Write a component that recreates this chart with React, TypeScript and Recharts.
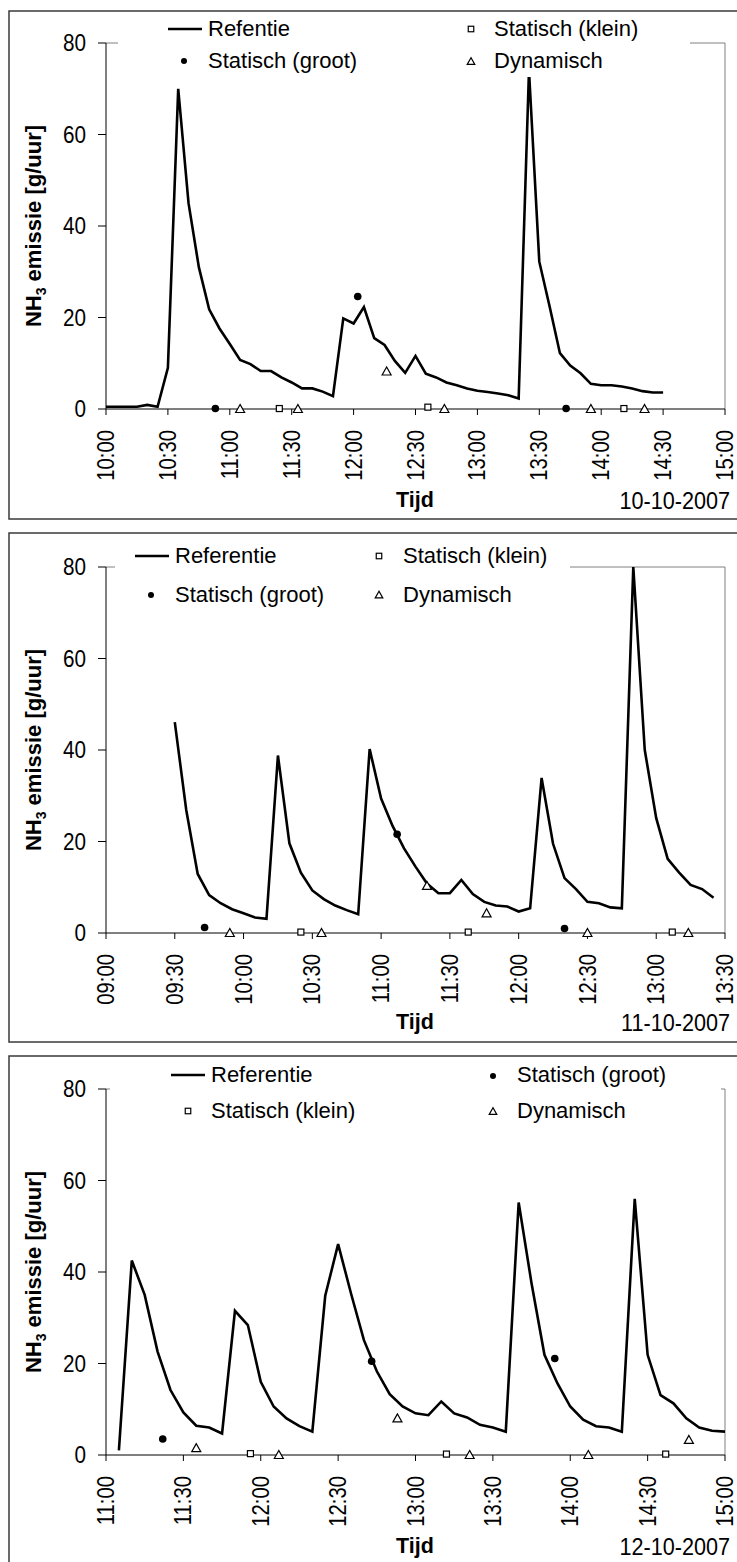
import { ComposedChart, Line, Scatter, XAxis, YAxis, ReferenceLine } from 'recharts'

const FONT = '"Liberation Sans", Arial, sans-serif'

// 10-10-2007
const refTimes1 = ['10:00', '10:05', '10:10', '10:15', '10:20', '10:25', '10:30', '10:35', '10:40', '10:45', '10:50', '10:55', '11:00', '11:05', '11:10', '11:15', '11:20', '11:25', '11:30', '11:35', '11:40', '11:45', '11:50', '11:55', '12:00', '12:05', '12:10', '12:15', '12:20', '12:25', '12:30', '12:35', '12:40', '12:45', '12:50', '12:55', '13:00', '13:05', '13:10', '13:15', '13:20', '13:25', '13:30', '13:35', '13:40', '13:45', '13:50', '13:55', '14:00', '14:05', '14:10', '14:15', '14:20', '14:25', '14:30']
const refValues1 = [0.5, 0.5, 0.5, 0.5, 0.9, 0.5, 9.0, 70.0, 45.0, 31.0, 21.8, 17.6, 14.2, 10.7, 9.8, 8.3, 8.3, 6.9, 5.8, 4.5, 4.5, 3.8, 2.8, 19.8, 18.7, 22.3, 15.5, 14.0, 10.5, 7.9, 11.6, 7.7, 6.9, 5.8, 5.2, 4.5, 4.0, 3.7, 3.4, 3.0, 2.3, 74.0, 32.2, 22.4, 12.2, 9.5, 7.8, 5.5, 5.2, 5.2, 4.9, 4.5, 3.9, 3.6, 3.6]
const grootTimes1 = ['10:53', '12:02', '13:43']
const grootValues1 = [0.1, 24.6, 0.1]
const kleinTimes1 = ['11:24', '12:36', '14:11']
const kleinValues1 = [0.1, 0.4, 0.1]
const dynTimes1 = ['11:05', '11:33', '12:16', '12:44', '13:55', '14:21']
const dynValues1 = [0, 0, 8.2, 0, 0, 0]
const ticks1 = ['10:00', '10:30', '11:00', '11:30', '12:00', '12:30', '13:00', '13:30', '14:00', '14:30', '15:00']

// 11-10-2007
const refTimes2 = ['09:30', '09:35', '09:40', '09:45', '09:50', '09:55', '10:00', '10:05', '10:10', '10:15', '10:20', '10:25', '10:30', '10:35', '10:40', '10:45', '10:50', '10:55', '11:00', '11:05', '11:10', '11:15', '11:20', '11:25', '11:30', '11:35', '11:40', '11:45', '11:50', '11:55', '12:00', '12:05', '12:10', '12:15', '12:20', '12:25', '12:30', '12:35', '12:40', '12:45', '12:50', '12:55', '13:00', '13:05', '13:10', '13:15', '13:20', '13:25']
const refValues2 = [46.1, 26.9, 12.9, 8.3, 6.5, 5.2, 4.3, 3.4, 3.1, 38.8, 19.6, 13.2, 9.3, 7.4, 6.0, 5.0, 4.1, 40.2, 29.4, 23.4, 18.5, 14.5, 10.8, 8.7, 8.7, 11.6, 8.5, 6.8, 6.0, 5.8, 4.7, 5.4, 33.9, 19.5, 12.0, 9.6, 6.8, 6.5, 5.6, 5.4, 80.0, 40.0, 25.1, 16.2, 13.2, 10.5, 9.6, 7.7]
const grootTimes2 = ['09:43', '11:07', '12:20']
const grootValues2 = [1.2, 21.6, 1.0]
const kleinTimes2 = ['10:25', '11:38', '13:07']
const kleinValues2 = [0.2, 0.2, 0.2]
const dynTimes2 = ['09:54', '10:34', '11:20', '11:46', '12:30', '13:14']
const dynValues2 = [0, 0, 10.3, 4.3, 0, 0]
const ticks2 = ['09:00', '09:30', '10:00', '10:30', '11:00', '11:30', '12:00', '12:30', '13:00', '13:30']

// 12-10-2007
const refTimes3 = ['11:05', '11:10', '11:15', '11:20', '11:25', '11:30', '11:35', '11:40', '11:45', '11:50', '11:55', '12:00', '12:05', '12:10', '12:15', '12:20', '12:25', '12:30', '12:35', '12:40', '12:45', '12:50', '12:55', '13:00', '13:05', '13:10', '13:15', '13:20', '13:25', '13:30', '13:35', '13:40', '13:45', '13:50', '13:55', '14:00', '14:05', '14:10', '14:15', '14:20', '14:25', '14:30', '14:35', '14:40', '14:45', '14:50', '14:55', '15:00']
const refValues3 = [1.0, 42.5, 35.0, 22.6, 14.2, 9.3, 6.4, 6.0, 4.7, 31.5, 28.4, 16.0, 10.6, 8.0, 6.3, 5.1, 34.8, 46.1, 35.3, 25.1, 18.3, 13.3, 10.6, 9.1, 8.7, 11.7, 9.1, 8.2, 6.6, 6.0, 5.1, 55.2, 37.5, 21.9, 15.7, 10.6, 7.7, 6.3, 6.0, 5.1, 56.0, 21.9, 13.1, 11.3, 8.0, 6.0, 5.3, 5.1]
const grootTimes3 = ['11:22', '12:43', '13:54']
const grootValues3 = [3.5, 20.5, 21.1]
const kleinTimes3 = ['11:56', '13:12', '14:37']
const kleinValues3 = [0.3, 0.2, 0.2]
const dynTimes3 = ['11:35', '12:07', '12:53', '13:21', '14:07', '14:46']
const dynValues3 = [1.5, 0, 8.0, 0, 0, 3.3]
const ticks3 = ['11:00', '11:30', '12:00', '12:30', '13:00', '13:30', '14:00', '14:30', '15:00']

const yTicks = [0, 20, 40, 60, 80]

const toMin = (s: string) => {
  const [h, m] = s.split(':').map(Number)
  return h * 60 + m
}
const fmt = (t: number) => `${String(Math.floor(t / 60)).padStart(2, '0')}:${String(t % 60).padStart(2, '0')}`
const pts = (times: string[], values: number[]) => times.map((s, i) => ({ t: toMin(s), v: values[i] }))

const Dot = ({ cx, cy, r = 3.8 }: any) => <circle cx={cx} cy={cy} r={r} fill="#000" />
const Square = ({ cx, cy, s = 6 }: any) => (
  <rect x={cx - s / 2} y={cy - s / 2} width={s} height={s} fill="#fff" stroke="#000" strokeWidth={1.2} />
)
const Triangle = ({ cx, cy, s = 4.5 }: any) => (
  <polygon
    points={`${cx},${cy - s} ${cx - s},${cy + s * 0.78} ${cx + s},${cy + s * 0.78}`}
    fill="#fff"
    stroke="#000"
    strokeWidth={1.2}
  />
)

// excel's arial is a bit condensed in the scan, so squeeze the glyphs horizontally
const TimeTick = ({ x, y, payload }: any) => (
  <text
    transform={`translate(${x} ${y}) rotate(-90) scale(0.88 1)`}
    textAnchor="end"
    dy="0.35em"
    fontSize={23}
    fontFamily={FONT}
    fill="#000"
  >
    {fmt(payload.value)}
  </text>
)

const ValueTick = ({ x, y, payload }: any) => (
  <text
    transform={`translate(${x} ${y}) scale(0.9 1)`}
    textAnchor="end"
    dy="0.36em"
    fontSize={23}
    fontFamily={FONT}
    fill="#000"
  >
    {payload.value}
  </text>
)

type PanelProps = {
  top: number
  ticks: string[]
  refData: { t: number; v: number }[]
  groot: { t: number; v: number }[]
  klein: { t: number; v: number }[]
  dyn: { t: number; v: number }[]
}

function Panel({ top, ticks, refData, groot, klein, dyn }: PanelProps) {
  const tickMins = ticks.map(toMin)
  const domain = [tickMins[0], tickMins[tickMins.length - 1]]
  return (
    <div style={{ position: 'absolute', left: 0, top }}>
      <ComposedChart width={737} height={500} margin={{ top: 32, right: 12, bottom: 42, left: 46 }}>
        <XAxis
          type="number"
          dataKey="t"
          domain={domain}
          ticks={tickMins}
          interval={0}
          allowDataOverflow
          height={60}
          tickSize={6}
          tickMargin={15}
          axisLine={{ stroke: '#000', strokeWidth: 1 }}
          tickLine={{ stroke: '#000', strokeWidth: 1 }}
          tick={(p: any) => <TimeTick {...p} />}
        />
        <YAxis
          type="number"
          domain={[0, 80]}
          ticks={yTicks}
          interval={0}
          width={60}
          tickSize={8}
          tickMargin={12}
          axisLine={{ stroke: '#000', strokeWidth: 1 }}
          tickLine={{ stroke: '#000', strokeWidth: 1 }}
          tick={(p: any) => <ValueTick {...p} />}
        />
        <ReferenceLine y={80} stroke="#808080" strokeWidth={1} />
        <ReferenceLine x={domain[1]} stroke="#808080" strokeWidth={1} />
        <Line data={refData} dataKey="v" type="linear" stroke="#000" strokeWidth={2.6} dot={false} isAnimationActive={false} />
        <Scatter data={groot} dataKey="v" shape={(p: any) => <Dot cx={p.cx} cy={p.cy} />} isAnimationActive={false} />
        <Scatter data={klein} dataKey="v" shape={(p: any) => <Square cx={p.cx} cy={p.cy} />} isAnimationActive={false} />
        <Scatter data={dyn} dataKey="v" shape={(p: any) => <Triangle cx={p.cx} cy={p.cy} />} isAnimationActive={false} />
      </ComposedChart>
    </div>
  )
}

type LegendItem = { kind: 'line' | 'dot' | 'square' | 'tri'; label: string; sx: number; sy: number; tx: number; ty: number }

function LegendBox({ box, items }: { box: [number, number, number, number]; items: LegendItem[] }) {
  return (
    <g>
      <rect x={box[0]} y={box[1]} width={box[2]} height={box[3]} fill="#fff" />
      {items.map((it) => (
        <g key={it.label}>
          {it.kind === 'line' && <line x1={it.sx - 17} x2={it.sx + 17} y1={it.sy} y2={it.sy} stroke="#000" strokeWidth={2.6} />}
          {it.kind === 'dot' && <Dot cx={it.sx} cy={it.sy} r={3} />}
          {it.kind === 'square' && <Square cx={it.sx} cy={it.sy} s={5.5} />}
          {it.kind === 'tri' && <Triangle cx={it.sx} cy={it.sy} s={3.8} />}
          <text x={it.tx} y={it.ty} fontSize={22} fontFamily={FONT} fill="#000">
            {it.label}
          </text>
        </g>
      ))}
    </g>
  )
}

function Titles({ plotTop, baseline, date }: { plotTop: number; baseline: number; date: string }) {
  const cy = plotTop + 183
  return (
    <g fontFamily={FONT} fill="#000">
      <text x={33} y={cy} transform={`rotate(-90 33 ${cy})`} textAnchor="middle" dy="0.35em" fontSize={22} fontWeight="bold">
        <tspan>NH</tspan>
        <tspan fontSize={14} dy={5}>3</tspan>
        <tspan dy={-5}> emissie [g/uur]</tspan>
      </text>
      <text x={415} y={baseline} textAnchor="middle" fontSize={21.5} fontWeight="bold">Tijd</text>
      <text transform={`translate(730 ${baseline + 2}) scale(0.94 1)`} textAnchor="end" fontSize={23}>{date}</text>
    </g>
  )
}

export default function App() {
  return (
    <div style={{ position: 'absolute', left: 0, top: 0, width: 737, height: 1562, overflow: 'hidden', background: '#fff' }}>
      <Panel top={11} ticks={ticks1} refData={pts(refTimes1, refValues1)} groot={pts(grootTimes1, grootValues1)} klein={pts(kleinTimes1, kleinValues1)} dyn={pts(dynTimes1, dynValues1)} />
      <Panel top={535} ticks={ticks2} refData={pts(refTimes2, refValues2)} groot={pts(grootTimes2, grootValues2)} klein={pts(kleinTimes2, kleinValues2)} dyn={pts(dynTimes2, dynValues2)} />
      <Panel top={1057} ticks={ticks3} refData={pts(refTimes3, refValues3)} groot={pts(grootTimes3, grootValues3)} klein={pts(kleinTimes3, kleinValues3)} dyn={pts(dynTimes3, dynValues3)} />
      <svg width={737} height={1562} style={{ position: 'absolute', left: 0, top: 0, pointerEvents: 'none' }}>
        <rect x={9} y={11} width={800} height={508} fill="none" stroke="#3a3a3a" strokeWidth={1.5} />
        <rect x={9} y={533} width={800} height={509} fill="none" stroke="#3a3a3a" strokeWidth={1.5} />
        <rect x={9} y={1056} width={800} height={520} fill="none" stroke="#3a3a3a" strokeWidth={1.5} />

        <LegendBox
          box={[118, 13, 572, 64]}
          items={[
            { kind: 'line', label: 'Refentie', sx: 185, sy: 29, tx: 208, ty: 36 },
            { kind: 'dot', label: 'Statisch (groot)', sx: 184, sy: 61, tx: 208, ty: 68 },
            { kind: 'square', label: 'Statisch (klein)', sx: 471, sy: 29, tx: 494, ty: 36 },
            { kind: 'tri', label: 'Dynamisch', sx: 471, sy: 61.5, tx: 494, ty: 68 },
          ]}
        />
        <LegendBox
          box={[115, 537, 455, 75]}
          items={[
            { kind: 'line', label: 'Referentie', sx: 152, sy: 556, tx: 175, ty: 563 },
            { kind: 'dot', label: 'Statisch (groot)', sx: 151, sy: 595, tx: 175, ty: 602 },
            { kind: 'square', label: 'Statisch (klein)', sx: 379, sy: 556, tx: 403, ty: 563 },
            { kind: 'tri', label: 'Dynamisch', sx: 379, sy: 595, tx: 403, ty: 602 },
          ]}
        />
        <LegendBox
          box={[110, 1058, 611, 72]}
          items={[
            { kind: 'line', label: 'Referentie', sx: 188, sy: 1075, tx: 211, ty: 1082 },
            { kind: 'square', label: 'Statisch (klein)', sx: 188, sy: 1111, tx: 211, ty: 1118 },
            { kind: 'dot', label: 'Statisch (groot)', sx: 493, sy: 1076, tx: 517, ty: 1082 },
            { kind: 'tri', label: 'Dynamisch', sx: 493, sy: 1111.5, tx: 517, ty: 1118 },
          ]}
        />

        <Titles plotTop={43} baseline={507} date="10-10-2007" />
        <Titles plotTop={567} baseline={1029} date="11-10-2007" />
        <Titles plotTop={1089} baseline={1553} date="12-10-2007" />
      </svg>
    </div>
  )
}
